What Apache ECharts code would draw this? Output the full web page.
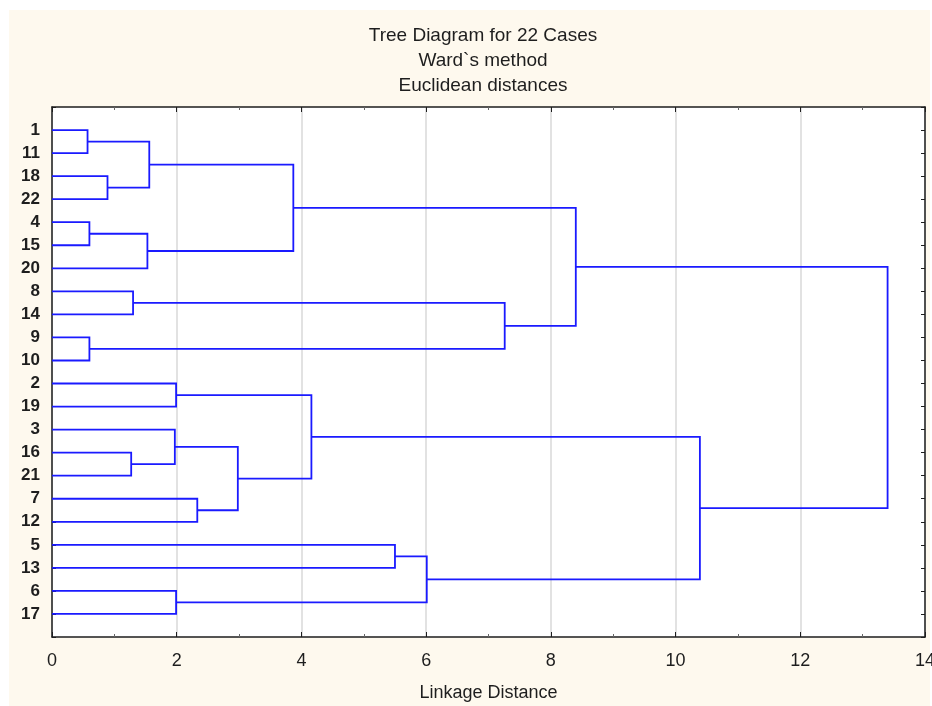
<!DOCTYPE html>
<html>
<head>
<meta charset="utf-8">
<script src="https://cdn.jsdelivr.net/npm/echarts@6/dist/echarts.min.js"></script>
<style>
html,body{margin:0;padding:0;background:#fff;}
#chart{width:932px;height:706px;}
</style>
</head>
<body>
<div id="chart"></div>
<script>
// Leaf order (top to bottom)
const cases = ['1','11','18','22','4','15','20','8','14','9','10','2','19','3','16','21','7','12','5','13','6','17'];
// Merge steps: ids, children and linkage distances
const mergeIds    = ['m1','m2','m3','m4','m5','m6','m7','m8','m9','m10','m11','m12','m13','m14','m15','m16','m17','m18','m19','m20','m21'];
const mergeLeft   = ['1','18','m1','4','m4','m3','8','9','m7','m6','2','16','3','7','m13','m11','5','6','m17','m16','m10'];
const mergeRight  = ['11','22','m2','15','20','m5','14','10','m8','m9','19','21','m12','12','m14','m15','13','17','m18','m19','m20'];
const mergeHeight = [0.57,0.89,1.56,0.60,1.53,3.87,1.30,0.60,7.26,8.40,1.99,1.27,1.97,2.33,2.98,4.16,5.50,1.99,6.01,10.39,13.40];

// Build node positions (leaf position = index+1; merge position = mean of children)
const pos = {}, hgt = {};
cases.forEach((c,i)=>{ pos[c]=i+1; hgt[c]=0; });
const segs = [];
mergeIds.forEach((id,k)=>{
  const a = mergeLeft[k], b = mergeRight[k], h = mergeHeight[k];
  pos[id] = (pos[a]+pos[b])/2; hgt[id] = h;
  segs.push({coords:[[hgt[a],pos[a]],[h,pos[a]],[h,pos[b]],[hgt[b],pos[b]]]});
});

const chart = echarts.init(document.getElementById('chart'));
const axisCol = '#1e1e1e';
const FONT = 'Liberation Sans, Arial, sans-serif';
const baseX = {
  type:'value', min:0, max:14, interval:2,
  axisLine:{show:true,onZero:false,lineStyle:{color:axisCol,width:1.5}},
  axisTick:{show:true,inside:true,length:5,lineStyle:{color:axisCol}},
  minorTick:{show:true,splitNumber:2,length:3,lineStyle:{color:'#666'}},
};
const baseY = {
  type:'value', inverse:true, min:0, max:23, interval:1,
  axisLine:{show:true,onZero:false,lineStyle:{color:axisCol,width:1.5}},
  axisTick:{show:true,inside:true,length:4,lineStyle:{color:axisCol}},
  splitLine:{show:false}
};
chart.setOption({
  backgroundColor:'#ffffff',
  animation:false,
  graphic:[{type:'rect',z:-10,shape:{x:9,y:10,width:921,height:696},style:{fill:'#fef9ee'}}],
  title:{
    text:'Tree Diagram for 22 Cases\nWard`s method\nEuclidean distances',
    left:478, top:18, textAlign:'center',
    textStyle:{fontFamily:FONT,fontSize:19,fontWeight:'normal',color:'#1e1e1e',lineHeight:25}
  },
  grid:{left:52,right:7,top:107,bottom:69,show:true,backgroundColor:'#ffffff',borderWidth:0,
        outerBoundsMode:'none',containLabel:false},
  xAxis:[
    Object.assign({},baseX,{
      position:'bottom',
      axisLabel:{show:true,fontSize:18,color:axisCol,margin:15,fontFamily:FONT},
      splitLine:{show:true,lineStyle:{color:'#d9d9d9',width:1.5}},
      name:'Linkage Distance', nameLocation:'middle', nameGap:47,
      nameTextStyle:{fontSize:18,color:axisCol,fontFamily:FONT}
    }),
    Object.assign({},baseX,{position:'top',axisLabel:{show:false},splitLine:{show:false}})
  ],
  yAxis:[
    Object.assign({},baseY,{
      position:'left',
      axisLabel:{show:true,fontSize:17,fontWeight:'bold',color:axisCol,margin:12,fontFamily:FONT,
        formatter:(v)=> (v>=1 && v<=cases.length) ? cases[v-1] : ''}
    }),
    Object.assign({},baseY,{position:'right',axisLabel:{show:false}})
  ],
  series:[{
    type:'lines', coordinateSystem:'cartesian2d', xAxisIndex:0, yAxisIndex:0,
    polyline:true, silent:true,
    lineStyle:{color:'#1a1aff',width:1.8,opacity:1},
    data:segs
  }]
});
</script>
</body>
</html>
